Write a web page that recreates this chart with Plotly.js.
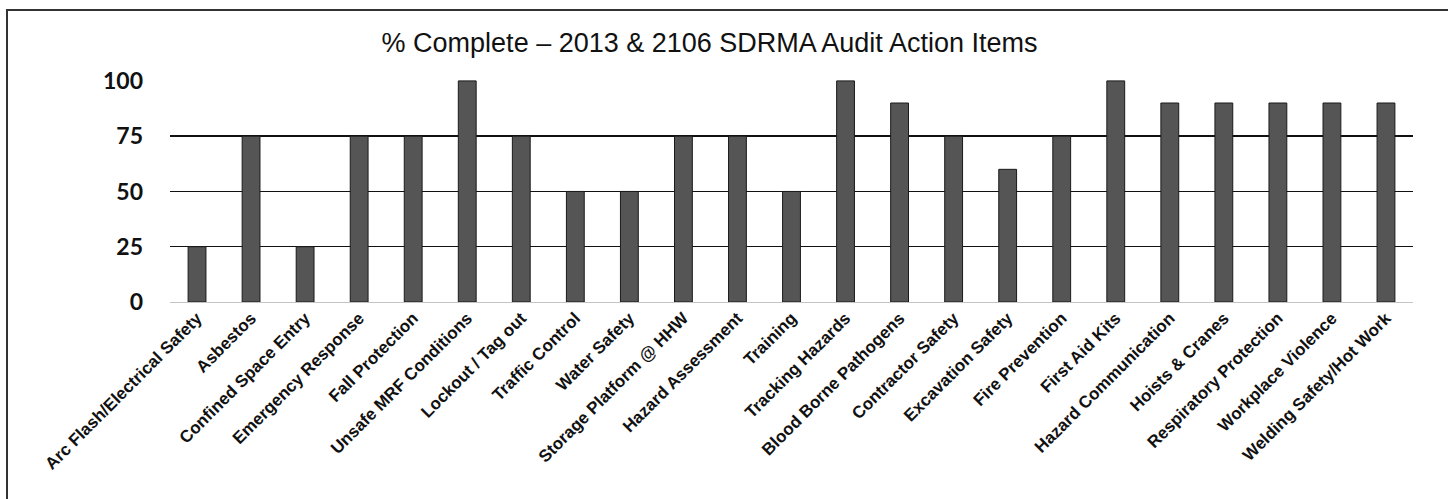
<!DOCTYPE html>
<html>
<head>
<meta charset="utf-8">
<script src="https://cdn.plot.ly/plotly-3.0.1.min.js"></script>
<style>
html,body{margin:0;padding:0;background:#fff;overflow:hidden;}
#frame{position:absolute;left:6px;top:9px;width:1450px;height:500px;border-left:2px solid #333;border-top:2px solid #333;}
#chart{position:absolute;left:0;top:0;width:1448px;height:499px;}
</style>
</head>
<body>
<div id="frame"></div>
<div id="chart"></div>
<script>
const categories = [
  "Arc Flash/Electrical Safety","Asbestos","Confined Space Entry","Emergency Response",
  "Fall Protection","Unsafe MRF Conditions","Lockout / Tag out","Traffic Control",
  "Water Safety","Storage Platform @ HHW","Hazard Assessment","Training",
  "Tracking Hazards","Blood Borne Pathogens","Contractor Safety","Excavation Safety",
  "Fire Prevention","First Aid Kits","Hazard Communication","Hoists & Cranes",
  "Respiratory Protection","Workplace Violence","Welding Safety/Hot Work"
];
const percentComplete = [25,75,25,75,75,100,75,50,50,75,75,50,100,90,75,60,75,100,90,90,90,90,90];
const yTicks = [0,25,50,75,100];
const chartTitle = "% Complete – 2013 & 2106 SDRMA Audit Action Items";

const trace = {
  type: "bar",
  x: categories,
  y: percentComplete,
  marker: {color: "#555555", line: {color: "#1a1a1a", width: 1}},
  hoverinfo: "x+y"
};

const layout = {
  width: 1448, height: 499,
  paper_bgcolor: "rgba(0,0,0,0)",
  plot_bgcolor: "rgba(0,0,0,0)",
  margin: {l: 170, r: 35, t: 80, b: 197},
  bargap: 0.67,
  showlegend: false,
  title: {
    text: chartTitle,
    font: {family: "Liberation Sans, Arial, sans-serif", size: 27, color: "#111"},
    xref: "container", x: 0.49, xanchor: "center",
    yref: "container", y: 0.915, yanchor: "middle"
  },
  xaxis: {
    type: "category",
    tickangle: -45,
    tickfont: {family: "Liberation Sans, Arial, sans-serif", size: 17, color: "#111", weight: "bold"},
    showgrid: false,
    showline: false,
    ticks: "",
    automargin: false,
    ticklabelstandoff: 2
  },
  yaxis: {
    range: [0, 100.4],
    tickvals: yTicks,
    ticktext: yTicks.map(String),
    tickfont: {family: "Lato, Open Sans, sans-serif", size: 23, color: "#111", weight: "bold"},
    showgrid: true,
    gridcolor: "#111",
    gridwidth: 1.5,
    zeroline: true,
    zerolinecolor: "#c4c4c4",
    zerolinewidth: 1,
    showline: false,
    ticks: "",
    automargin: false,
    ticklabelstandoff: 26
  }
};

Plotly.newPlot("chart", [trace], layout, {displayModeBar: false, staticPlot: true});
</script>
</body>
</html>
